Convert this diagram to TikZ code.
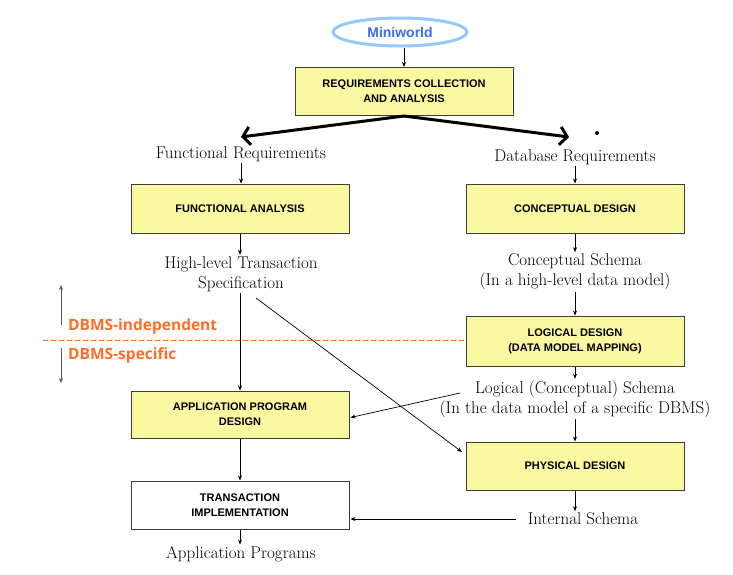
\documentclass[tikz,border=0pt]{standalone}
\usepackage{fontspec}
\usetikzlibrary{arrows.meta,calc,shapes.geometric}
\newfontfamily\boxfont{Liberation Sans}
\newfontfamily\labfont{Open Sans}
\definecolor{boxyellow}{RGB}{250,248,160}
\definecolor{boxline}{RGB}{60,60,60}
\definecolor{dbmsorange}{RGB}{255,110,40}
\definecolor{miniblue}{RGB}{60,110,245}
\definecolor{ellblue}{RGB}{150,200,250}
\begin{document}
\begin{tikzpicture}[x=1pt,y=-1pt,
  stagebox/.style={draw=boxline,line width=1pt,fill=boxyellow,minimum width=218pt,minimum height=48pt,align=center,font=\boxfont\bfseries\fontsize{11}{15}\selectfont,inner sep=0pt},
  whitebox/.style={stagebox,fill=white},
  flowtext/.style={align=center,font=\fontsize{17}{20}\selectfont,inner sep=1.5pt},
  conn/.style={draw=black,line width=0.7pt,-{Stealth[length=5pt,width=4pt]}},
  bigarrow/.style={line width=3pt,line cap=round,line join=round,-{Straight Barb[length=7pt,width=18pt,line width=3pt]}},
  grayarrow/.style={draw=gray!70!black,line width=0.8pt,-{Stealth[length=5pt,width=4pt]}},
  dbmslabel/.style={anchor=west,text=dbmsorange,font=\labfont\bfseries\fontsize{15.5}{18}\selectfont,inner sep=0pt}]
\useasboundingbox (0,0) rectangle (733,574);
\fill[white] (0,0) rectangle (733,574);

% nodes
\node[draw=ellblue,line width=3pt,fill=white,ellipse,minimum width=134pt,minimum height=28pt,inner sep=0pt,
      text=miniblue,font=\boxfont\bfseries\fontsize{14}{16}\selectfont] (mw) at (400,32) {Miniworld};
\node[stagebox] (rca) at (404,91.5) {REQUIREMENTS COLLECTION\\AND ANALYSIS};
\node[flowtext] (fr) at (241,154) {Functional Requirements};
\node[flowtext] (dr) at (575,157) {Database Requirements};
\node[stagebox,minimum height=49pt] (fa) at (240,208.5) {FUNCTIONAL ANALYSIS};
\node[stagebox,minimum height=49pt] (cd) at (575,208.5) {CONCEPTUAL DESIGN};
\node[flowtext] (hts) at (241,274) {High-level Transaction\\Specification};
\node[flowtext] (cs) at (575,272) {Conceptual Schema\\(In a high-level data model)};
\node[stagebox,minimum height=50pt] (ld) at (575,341) {LOGICAL DESIGN\\(DATA MODEL MAPPING)};
\node[flowtext] (ls) at (575,399) {Logical (Conceptual) Schema\\(In the data model of a specific DBMS)};
\node[stagebox,minimum height=47pt] (apd) at (240,414.5) {APPLICATION PROGRAM\\DESIGN};
\node[stagebox,minimum height=48pt] (pd) at (575,466) {PHYSICAL DESIGN};
\node[whitebox,minimum height=48pt] (ti) at (240,505) {TRANSACTION\\IMPLEMENTATION};
\node[flowtext] (is) at (583,519) {Internal Schema};
\node[flowtext] (ap) at (241,554) {Application Programs};

\node[dbmslabel] (dind) at (68,326) {DBMS-independent};
\node[dbmslabel] (dspec) at (68,355) {DBMS-specific};

% helper coordinates
\coordinate (bl) at (241,137);
\coordinate (br) at (569,137);
\coordinate (specout) at (256,298);
\coordinate (pdin) at (462,452);
\coordinate (lsout) at (460,393);
\coordinate (upa) at (61,325);
\coordinate (upb) at (61,285);
\coordinate (dna) at (61,348);
\coordinate (dnb) at (61,383);
\coordinate (dashstart) at (43,340);

% DBMS boundary
\draw[dbmsorange,dashed,dash pattern=on 5pt off 3pt,line width=0.8pt] (dashstart) -- (dashstart -| ld.west);
\draw[grayarrow] (upa) -- (upb);
\draw[grayarrow] (dna) -- (dnb);

% connectors
\draw[conn] (rca.north |- mw.south) -- (rca.north);
\draw[bigarrow] (rca.south) -- (bl);
\draw[bigarrow] (rca.south) -- (br);
\fill (597,133) circle (2pt);
\draw[conn] (fr.south) -- (fr.south |- fa.north);
\draw[conn] (dr.south) -- (dr.south |- cd.north);
\draw[conn] (fa.south) -- (fa.south |- hts.north);
\draw[conn] (cd.south) -- (cd.south |- cs.north);
\draw[conn] (cs.south) -- (ld.north);
\draw[conn] (ld.south) -- (ld.south |- ls.north);
\draw[conn] (hts.south -| apd.north) -- (apd.north);
\draw[conn] (specout) -- (pdin);
\draw[conn] (lsout) -- ($(apd.east)+(1,3)$);
\draw[conn] (ls.south) -- (ls.south |- pd.north);
\draw[conn] (apd.south) -- (ti.north);
\draw[conn] (pd.south) -- (pd.south |- is.north);
\draw[conn] ($(is.west)+(-10,0)$) -- ($(is.west -| ti.east)+(1,0)$);
\draw[conn] (ti.south) -- (ti.south |- ap.north);
\end{tikzpicture}
\end{document}
